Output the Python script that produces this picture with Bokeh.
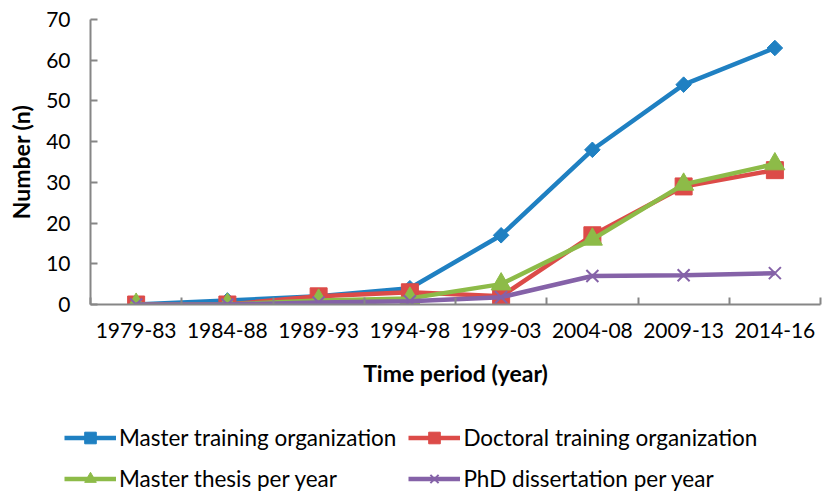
from bokeh.plotting import figure
from bokeh.models import FixedTicker, Legend, LegendItem, Range1d
from bokeh.layouts import column
from bokeh.embed import file_html
from bokeh.resources import INLINE
import math

periods = ["1979-83", "1984-88", "1989-93", "1994-98", "1999-03", "2004-08", "2009-13", "2014-16"]
master_training = [0, 1, 2, 4, 17, 38, 54, 63]
doctoral_training = [0, 0, 2, 3, 2, 17, 29, 33]
master_thesis = [0, 0, 1, 1.5, 5, 16, 29.5, 34.5]
phd_dissertation = [0, 0, 0.5, 0.8, 1.8, 7, 7.2, 7.7]
y_ticks = [0, 10, 20, 30, 40, 50, 60, 70]
labels = ["Master training organization", "Doctoral training organization",
          "Master thesis per year", "PhD dissertation per year"]

FONT = "Lato"
BLUE = "#1F80C2"
RED = "#DC4B48"
GREEN = "#8DBB48"
PURPLE = "#8562A8"
AX = "#868686"
x = list(range(len(periods)))

p = figure(width=822, height=393, output_backend="svg", toolbar_location=None,
           x_range=Range1d(-0.5, len(periods) - 0.5), y_range=Range1d(0, 70),
           min_border_left=90, min_border_right=2, min_border_top=19, min_border_bottom=89)
p.frame_align = False
p.outline_line_color = None
p.xgrid.grid_line_color = None
p.ygrid.grid_line_color = None

# y axis
p.yaxis.ticker = FixedTicker(ticks=y_ticks)
p.yaxis.axis_line_color = AX
p.yaxis.axis_line_width = 2
p.yaxis.major_tick_line_color = AX
p.yaxis.major_tick_line_width = 2
p.yaxis.major_tick_in = 7
p.yaxis.major_tick_out = 0
p.yaxis.minor_tick_line_color = None
p.yaxis.major_label_text_font = FONT
p.yaxis.major_label_text_font_size = "21px"
p.yaxis.major_label_text_color = "#000000"
p.yaxis.major_label_standoff = 20
p.yaxis.axis_label = "Number (n)"
p.yaxis.axis_label_text_font = FONT
p.yaxis.axis_label_text_font_size = "23px"
p.yaxis.axis_label_text_font_style = "bold"
p.yaxis.axis_label_text_color = "#000000"
p.yaxis.axis_label_standoff = 8

# x axis
boundaries = [i - 0.5 for i in range(len(periods) + 1)]
p.xaxis.ticker = FixedTicker(ticks=x, minor_ticks=boundaries)
p.xaxis.major_label_overrides = {i: s for i, s in enumerate(periods)}
p.xaxis.axis_line_color = AX
p.xaxis.axis_line_width = 2
p.xaxis.major_tick_line_color = None
p.xaxis.minor_tick_line_color = AX
p.xaxis.minor_tick_line_width = 2
p.xaxis.minor_tick_in = 7
p.xaxis.minor_tick_out = 0
p.xaxis.major_label_text_font = FONT
p.xaxis.major_label_text_font_size = "21px"
p.xaxis.major_label_text_color = "#000000"
p.xaxis.major_label_standoff = 12
p.xaxis.axis_label = "Time period (year)"
p.xaxis.axis_label_text_font = FONT
p.xaxis.axis_label_text_font_size = "23px"
p.xaxis.axis_label_text_font_style = "bold"
p.xaxis.axis_label_text_color = "#000000"
p.xaxis.axis_label_standoff = 18


def draw(fig):
    r = []
    r.append((fig.line(x, master_training, color=BLUE, line_width=4.5),
              fig.scatter(x, master_training, marker="square", angle=math.pi / 4, size=11, color=BLUE)))
    r.append((fig.line(x, doctoral_training, color=RED, line_width=4.5),
              fig.scatter(x, doctoral_training, marker="square", size=17, color=RED)))
    r.append((fig.line(x, master_thesis, color=GREEN, line_width=4.5),
              fig.scatter(x, master_thesis, marker="triangle", size=20, color=GREEN)))
    r.append((fig.line(x, phd_dissertation, color=PURPLE, line_width=4.5),
              fig.scatter(x, phd_dissertation, marker="x", size=17, line_color=PURPLE, line_width=2)))
    return r


draw(p)

# legend panel: same series in a second figure whose ranges keep them out of view
lf = figure(width=822, height=99, output_backend="svg", toolbar_location=None,
            x_axis_type=None, y_axis_type=None,
            x_range=Range1d(-0.5, len(periods) - 0.5), y_range=Range1d(1000, 1001),
            min_border=0)
lf.frame_align = False
lf.outline_line_color = None
lf.xgrid.grid_line_color = None
lf.ygrid.grid_line_color = None
rs = draw(lf)

legend = Legend(items=[
    LegendItem(label=labels[0], renderers=list(rs[0])),
    LegendItem(label=labels[2], renderers=list(rs[2])),
    LegendItem(label=labels[1], renderers=list(rs[1])),
    LegendItem(label=labels[3], renderers=list(rs[3])),
], orientation="vertical", ncols=2)
legend.label_text_font = FONT
legend.label_text_font_size = "22.5px"
legend.label_text_color = "#000000"
legend.glyph_width = 52
legend.glyph_height = 29
legend.label_standoff = 3
legend.spacing = 12
legend.padding = 0
legend.margin = 0
legend.border_line_color = None
legend.background_fill_alpha = 0
legend.location = (64, -1)
lf.add_layout(legend, "center")

open("out.html", "w").write(file_html(column(p, lf, spacing=0), INLINE))
